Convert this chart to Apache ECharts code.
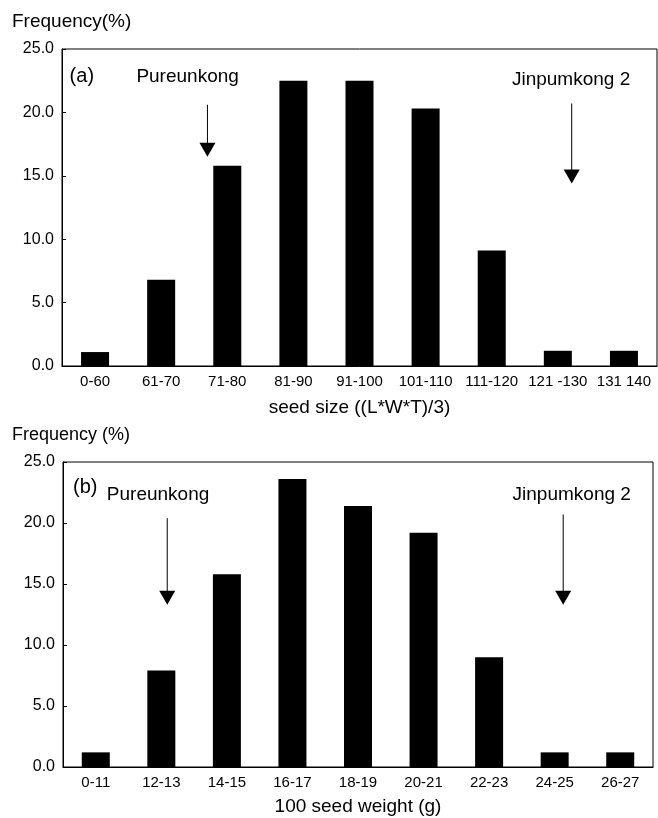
<!DOCTYPE html>
<html><head><meta charset="utf-8">
<script src="https://cdn.jsdelivr.net/npm/echarts@6/dist/echarts.min.js"></script>
<style>html,body{margin:0;padding:0;background:#fff}#c{width:658px;height:818px}</style>
</head><body><div id="c"></div>
<script>
// ---- data ----
const sizeCategories = ['0-60', '61-70', '71-80', '81-90', '91-100', '101-110', '111-120', '121 -130', '131 140'];
const sizeFreq = [1.1, 6.8, 15.8, 22.5, 22.5, 20.3, 9.1, 1.2, 1.2];
const weightCategories = ['0-11', '12-13', '14-15', '16-17', '18-19', '20-21', '22-23', '24-25', '26-27'];
const weightFreq = [1.2, 7.9, 15.8, 23.6, 21.4, 19.2, 9.0, 1.2, 1.2];
const yMin = 0, yMax = 25, yStep = 5;
const yTitle = ['Frequency(%)', 'Frequency (%)'];
const xTitle = ['seed size ((L*W*T)/3)', '100 seed weight (g)'];
// annotations in data units (category index, frequency)
const panelTags = [{text: '(a)', x: -0.2, y: 22.8}, {text: '(b)', x: -0.16, y: 22.9}];
const labelsA = [{text: 'Pureunkong', x: 1.4, y: 22.8}, {text: 'Jinpumkong 2', x: 7.2, y: 22.6}];
const labelsB = [{text: 'Pureunkong', x: 0.95, y: 22.3}, {text: 'Jinpumkong 2', x: 7.26, y: 22.3}];
const arrowsA = [{x: 1.7, from: 20.6, to: 16.5}, {x: 7.21, from: 20.7, to: 14.4}];
const arrowsB = [{x: 1.09, from: 20.4, to: 13.3}, {x: 7.13, from: 20.7, to: 13.3}];

const FONT = 'Liberation Sans, Arial, sans-serif';
const chart = echarts.init(document.getElementById('c'), null, {renderer: 'canvas'});

function xAxisCfg(gi, cats, name, gap) {
  return {
    type: 'category', gridIndex: gi, data: cats, boundaryGap: true,
    name: name, nameLocation: 'middle', nameGap: gap,
    nameTextStyle: {color: '#000', fontSize: 19, fontFamily: FONT},
    axisLine: {lineStyle: {color: '#000', width: 1}},
    axisTick: {inside: true, length: 4, lineStyle: {color: '#000'}},
    axisLabel: {color: '#000', fontSize: 15, fontFamily: FONT, margin: 8, interval: 0}
  };
}
function yAxisCfg(gi) {
  return {
    type: 'value', gridIndex: gi, min: yMin, max: yMax, interval: yStep,
    axisLine: {show: true, lineStyle: {color: '#000', width: 1}},
    axisTick: {show: true, inside: true, length: 4, lineStyle: {color: '#000'}},
    splitLine: {show: false},
    axisLabel: {color: '#000', fontSize: 16, fontFamily: FONT, margin: 8,
      formatter: v => v.toFixed(1)}
  };
}

chart.setOption({
  backgroundColor: '#fff',
  animation: false,
  grid: [
    {left: 62, right: 1, top: 49, bottom: 452, show: true, borderColor: '#000', borderWidth: 1},
    {left: 63, right: 5, top: 462, bottom: 51, show: true, borderColor: '#000', borderWidth: 1}
  ],
  xAxis: [xAxisCfg(0, sizeCategories, xTitle[0], 32), xAxisCfg(1, weightCategories, xTitle[1], 30)],
  yAxis: [yAxisCfg(0), yAxisCfg(1)],
  series: [
    {type: 'bar', xAxisIndex: 0, yAxisIndex: 0, data: sizeFreq, barWidth: 28, itemStyle: {color: '#000'}},
    {type: 'bar', xAxisIndex: 1, yAxisIndex: 1, data: weightFreq, barWidth: 28, itemStyle: {color: '#000'}}
  ]
});

function px(gi, cx, v) {
  const lo = Math.floor(cx), hi = lo + 1;
  const p0 = chart.convertToPixel({gridIndex: gi}, [Math.max(lo, 0), v]);
  const p1 = chart.convertToPixel({gridIndex: gi}, [Math.max(hi, 1), v]);
  const step = p1[0] - p0[0];
  const base = lo < 0 ? p0[0] + lo * step : p0[0];
  return [base + (cx - lo) * step, p0[1]];
}

const g = [];
[[0, labelsA, arrowsA], [1, labelsB, arrowsB]].forEach(([gi, labels, arrows]) => {
  const t = panelTags[gi];
  const tp = px(gi, t.x, t.y);
  g.push({type: 'text', x: tp[0], y: tp[1], style: {text: t.text, fill: '#000', font: '20px ' + FONT, textAlign: 'center', textVerticalAlign: 'middle'}});
  labels.forEach(l => {
    const p = px(gi, l.x, l.y);
    g.push({type: 'text', x: p[0], y: p[1], style: {text: l.text, fill: '#000', font: '19px ' + FONT, textAlign: 'center', textVerticalAlign: 'middle'}});
  });
  arrows.forEach(a => {
    const p1 = px(gi, a.x, a.from), p2 = px(gi, a.x, a.to);
    g.push({type: 'line', shape: {x1: p1[0], y1: p1[1], x2: p2[0], y2: p2[1] - 10}, style: {stroke: '#000', lineWidth: 1}});
    g.push({type: 'polygon', shape: {points: [[p2[0] - 8, p2[1] - 14], [p2[0] + 8, p2[1] - 14], [p2[0], p2[1]]]}, style: {fill: '#000'}});
  });
  // y-axis title
  const top = px(gi, 0, yMax);
  g.push({type: 'text', x: 12, y: top[1] - 27, style: {text: yTitle[gi], fill: '#000', font: (gi === 0 ? 19 : 18) + 'px ' + FONT, textAlign: 'left', textVerticalAlign: 'middle'}});
});
chart.setOption({graphic: g});
</script></body></html>
